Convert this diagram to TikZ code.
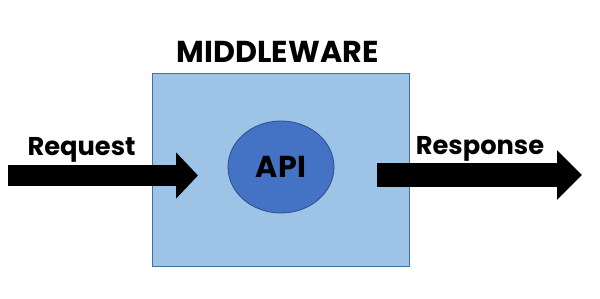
\documentclass[tikz,border=0pt]{standalone}
\usepackage{fontspec}
\setmainfont{Poppins}
\usepackage{xcolor}
\usepackage{tikz}
\usetikzlibrary{arrows.meta,shapes.geometric}

\definecolor{boxfill}{HTML}{9DC3E6}
\definecolor{boxline}{HTML}{41719C}
\definecolor{apifill}{HTML}{4472C4}
\definecolor{apiline}{HTML}{2F528F}

\begin{document}
\begin{tikzpicture}[>=Latex, thick]
    \useasboundingbox (0,0) rectangle (15,7.475);

    % Middleware box and the API inside it
    \node[draw=boxline, line width=0.6pt, fill=boxfill, minimum width=6.425cm, minimum height=4.825cm] (mw) at (7.0125,3.2375) {};
    \node[ellipse, draw=apiline, line width=0.6pt, fill=apifill, minimum width=2.65cm, minimum height=2.3cm, font=\fontsize{21.5}{24}\selectfont\bfseries] (api) at (7.025,3.3) {API};

    % Title
    \node[anchor=base, font=\fontsize{21.5}{24}\selectfont\bfseries] (title) at (6.94,5.9) {MIDDLEWARE};

    % Request arrow: in from the left
    \coordinate (reqstart) at (0.2,3.0875);
    \coordinate (reqend) at (4.95,3.0875);
    \draw[line width=0.525cm, -{Triangle[length=0.55cm, width=1.125cm]}] (reqstart) -- (reqend);
    \node[anchor=base, font=\fontsize{18.3}{22}\selectfont\bfseries] (req) at (2.04,3.575) {Request};

    % Response arrow: out to the right
    \coordinate (resstart) at (9.425,3.1);
    \coordinate (resend) at (14.55,3.1);
    \draw[line width=0.6cm, -{Triangle[length=0.625cm, width=1.2cm]}] (resstart) -- (resend);
    \node[anchor=base, font=\fontsize{18.3}{22}\selectfont\bfseries] (res) at (12.0,3.6) {Response};
\end{tikzpicture}
\end{document}
